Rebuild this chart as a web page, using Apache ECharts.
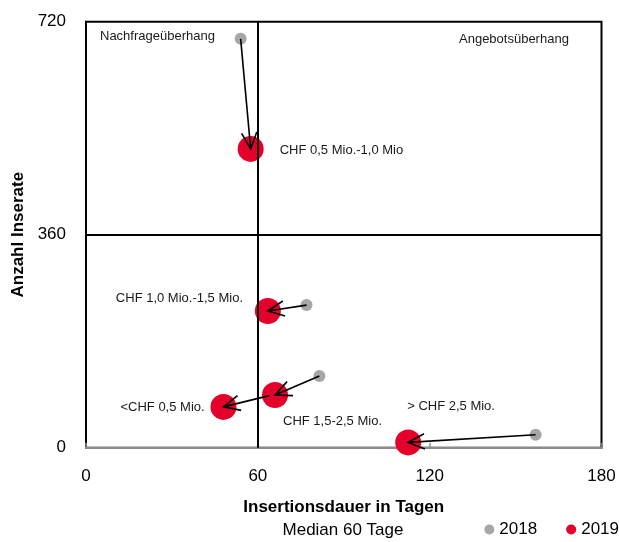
<!DOCTYPE html>
<html>
<head>
<meta charset="utf-8">
<script src="https://cdn.jsdelivr.net/npm/echarts@6/dist/echarts.min.js"></script>
<style>
html,body{margin:0;padding:0;background:#fff;}
#chart{width:619px;height:542px;}
</style>
</head>
<body>
<div id="chart"></div>
<script>
// ---- data ----
const categories = ['CHF 0,5 Mio.-1,0 Mio', 'CHF 1,0 Mio.-1,5 Mio.', 'CHF 1,5-2,5 Mio.', '<CHF 0,5 Mio.', '> CHF 2,5 Mio.'];
const days2018 = [54, 77, 81.5, 64, 157];
const ads2018  = [691, 241, 121, 88, 22];
const days2019 = [57.5, 63.5, 66, 48, 112.5];
const ads2019  = [505, 231, 89, 69, 9];
const medianDays = 60;
const midAds = 360;
const xTicks = [0, 60, 120, 180];
const yTicks = [0, 360, 720];
const seriesNames = ['2018', '2019'];

// ---- layout / style ----
const labelOffsets = [[29, 2], [-152, -13], [8, 26], [-103, 1], [-1, -36]];
const FONT = "'Liberation Sans', Arial, sans-serif";
const GREY = '#A6A6A6';
const RED = '#E4002B';
const RED_SIZE = 26;

const chart = echarts.init(document.getElementById('chart'), null, {renderer: 'canvas'});

const arrowData = categories.map((c, i) => [days2018[i], ads2018[i], days2019[i], ads2019[i]]);

function renderArrow(params, api) {
  const p1 = api.coord([api.value(0), api.value(1)]);
  const p2 = api.coord([api.value(2), api.value(3)]);
  const ang = Math.atan2(p1[1] - p2[1], p1[0] - p2[0]);
  const L = 18, a = 25 * Math.PI / 180;
  const w1 = [p2[0] + L * Math.cos(ang + a), p2[1] + L * Math.sin(ang + a)];
  const w2 = [p2[0] + L * Math.cos(ang - a), p2[1] + L * Math.sin(ang - a)];
  return {
    type: 'group',
    children: [
      {type: 'line', shape: {x1: p1[0], y1: p1[1], x2: p2[0], y2: p2[1]}, style: {stroke: '#000', lineWidth: 1.6}},
      {type: 'polyline', shape: {points: [w1, p2, w2]}, style: {stroke: '#000', fill: null, lineWidth: 1.6}}
    ]
  };
}

const option = {
  animation: false,
  backgroundColor: '#fff',
  textStyle: {fontFamily: FONT},
  grid: {left: 86, right: 17.5, top: 21.7, bottom: 94.3, show: true, borderColor: '#000', borderWidth: 2, backgroundColor: 'transparent'},
  xAxis: {
    type: 'value', min: xTicks[0], max: xTicks[xTicks.length - 1], interval: 60,
    name: 'Insertionsdauer in Tagen', nameLocation: 'middle', nameGap: 51,
    nameTextStyle: {fontFamily: FONT, fontSize: 17, fontWeight: 'bold', color: '#000'},
    axisLine: {show: true, lineStyle: {color: '#8C8C8C', width: 2}},
    axisTick: {show: true, inside: true, length: 5, lineStyle: {color: '#8C8C8C', width: 1.5}},
    axisLabel: {fontFamily: FONT, fontSize: 17, color: '#000', margin: 20},
    splitLine: {show: false}
  },
  yAxis: {
    type: 'value', min: yTicks[0], max: yTicks[yTicks.length - 1], interval: 360,
    name: 'Anzahl Inserate', nameLocation: 'middle', nameGap: 58, nameRotate: 90,
    nameTextStyle: {fontFamily: FONT, fontSize: 17, fontWeight: 'bold', color: '#000'},
    axisLine: {show: true, lineStyle: {color: '#000', width: 2}},
    axisTick: {show: false},
    axisLabel: {fontFamily: FONT, fontSize: 17, color: '#000', margin: 20},
    splitLine: {show: false}
  },
  legend: {
    data: seriesNames, right: 0, top: 521, icon: 'circle', itemWidth: 10, itemHeight: 10, itemGap: 29,
    padding: 0,
    textStyle: {fontFamily: FONT, fontSize: 17, color: '#000'}
  },
  graphic: [
    {type: 'text', left: 100, top: 30, style: {text: 'Nachfrageüberhang', font: "13px 'Liberation Sans', Arial", fill: '#1a1a1a'}},
    {type: 'text', left: 459, top: 33, style: {text: 'Angebotsüberhang', font: "13px 'Liberation Sans', Arial", fill: '#1a1a1a'}},
    {type: 'text', x: 343, y: 530, style: {text: 'Median ' + medianDays + ' Tage', font: "17px 'Liberation Sans', Arial", fill: '#000', textAlign: 'center', textVerticalAlign: 'middle'}}
  ],
  series: [
    {
      name: seriesNames[0], type: 'scatter', symbolSize: 12, z: 2,
      itemStyle: {color: GREY, opacity: 1},
      data: days2018.map((d, i) => [d, ads2018[i]]),
      markLine: {
        silent: true, symbol: ['none', 'none'], label: {show: false},
        lineStyle: {color: '#000', width: 2, type: 'solid'},
        data: [{xAxis: medianDays}, {yAxis: midAds}]
      }
    },
    {
      name: seriesNames[1], type: 'scatter', symbolSize: RED_SIZE, z: 3,
      itemStyle: {color: RED, opacity: 1},
      data: days2019.map((d, i) => ({
        value: [d, ads2019[i]], name: categories[i],
        label: {show: true,
                position: [RED_SIZE / 2 + labelOffsets[i][0], RED_SIZE / 2 + labelOffsets[i][1]],
                align: 'left', verticalAlign: 'middle',
                formatter: categories[i], fontFamily: FONT, fontSize: 13, color: '#1a1a1a'}
      })),
      labelLayout: {hideOverlap: false}
    },
    {
      type: 'custom', z: 4, silent: true,
      renderItem: renderArrow,
      data: arrowData,
      encode: {x: [0, 2], y: [1, 3]}
    }
  ]
};
chart.setOption(option);
</script>
</body>
</html>
